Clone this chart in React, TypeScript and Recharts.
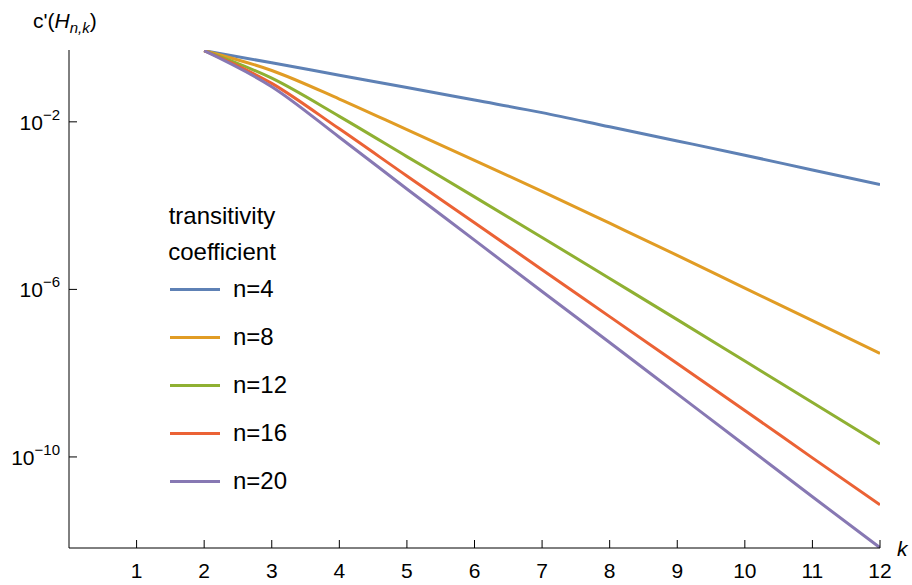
import React from 'react';
import { LineChart, Line, XAxis, YAxis, Legend } from 'recharts';

// k values and c'(H_{n,k})
const ks = [2, 3, 4, 5, 6, 7, 8, 9, 10, 11, 12];
const n4 = [0.5, 0.257, 0.13, 0.066, 0.0331, 0.0166, 7.6e-3, 3.5e-3, 1.6e-3, 7.1e-4, 3.2e-4];
const n8 = [0.5, 0.168, 3.5e-2, 6.5e-3, 1.2e-3, 2.2e-4, 3.8e-5, 6.5e-6, 1.07e-6, 1.8e-7, 2.95e-8];
const n12 = [0.5, 0.11, 1.35e-2, 1.48e-3, 1.62e-4, 1.74e-5, 1.82e-6, 1.9e-7, 1.95e-8, 2.0e-9, 2.04e-10];
const n16 = [0.5, 8.3e-2, 6.8e-3, 5.1e-4, 3.9e-5, 2.95e-6, 2.24e-7, 1.7e-8, 1.29e-9, 9.5e-11, 7.2e-12];
const n20 = [0.5, 6.9e-2, 4.3e-3, 2.5e-4, 1.5e-5, 8.9e-7, 5.4e-8, 3.2e-9, 1.9e-10, 1.12e-11, 6.8e-13];

const xTicks = [1, 2, 3, 4, 5, 6, 7, 8, 9, 10, 11, 12];
const yTicks = [1e-2, 1e-6, 1e-10];

const series = [
  { key: 'n4', name: 'n=4', color: '#5E81B5' },
  { key: 'n8', name: 'n=8', color: '#E19C24' },
  { key: 'n12', name: 'n=12', color: '#8FB032' },
  { key: 'n16', name: 'n=16', color: '#EB6235' },
  { key: 'n20', name: 'n=20', color: '#8778B3' },
];

const data = ks.map((k, i) => ({
  k,
  n4: n4[i],
  n8: n8[i],
  n12: n12[i],
  n16: n16[i],
  n20: n20[i],
}));

const FONT = '"Liberation Sans", Arial, sans-serif';

const XTick = ({ x, y, payload }: any) => (
  <g>
    <line x1={x} x2={x} y1={y} y2={y - 8} stroke="#000" strokeWidth={1} />
    <text x={x} y={y + 30} textAnchor="middle" fontSize={21} fontFamily={FONT} fill="#000">
      {payload.value}
    </text>
  </g>
);

const YTick = ({ x, y, payload }: any) => {
  const exp = Math.round(Math.log10(payload.value));
  return (
    <g>
      <line x1={x} x2={x + 8} y1={y} y2={y} stroke="#000" strokeWidth={1} />
      <text x={x - 9} y={y + 8} textAnchor="end" fontSize={21} fontFamily={FONT} fill="#000">
        10
        <tspan dy={-10} fontSize={15}>{'\u2212' + -exp}</tspan>
      </text>
    </g>
  );
};

// legend keeps the series order (n=4 ... n=20) instead of sorting by name
const LegendBox = () => (
  <div style={{ fontFamily: FONT, fontSize: 24, color: '#000' }}>
    <div style={{ textAlign: 'center', width: 124, lineHeight: '36px' }}>
      transitivity
      <br />
      coefficient
    </div>
    {series.map((s, i) => (
      <div
        key={s.key}
        style={{ display: 'flex', alignItems: 'center', height: 48, marginTop: i === 0 ? -5 : 0 }}
      >
        <div style={{ width: 50, height: 3, background: s.color, marginLeft: 10 }} />
        <span style={{ marginLeft: 13 }}>{s.name}</span>
      </div>
    ))}
  </div>
);

export default function App() {
  return (
    <div style={{ position: 'absolute', left: 0, top: 0, background: '#fff' }}>
      <LineChart width={912} height={585} data={data} margin={{ top: 50, right: 32, left: 0, bottom: 0 }}>
        <XAxis
          dataKey="k"
          type="number"
          domain={[0, 12]}
          ticks={xTicks}
          allowDataOverflow
          height={37}
          tickSize={0}
          tickMargin={0}
          tickLine={false}
          stroke="#000"
          tick={<XTick />}
          interval={0}
          label={{
            content: () => (
              <text x={897} y={556} fontSize={21} fontStyle="italic" fontFamily={FONT} fill="#000">
                k
              </text>
            ),
          }}
        />
        <YAxis
          scale="log"
          type="number"
          domain={[6.7e-13, 0.519]}
          ticks={yTicks}
          allowDataOverflow
          width={69}
          tickSize={0}
          tickMargin={0}
          tickLine={false}
          stroke="#000"
          tick={<YTick />}
          interval={0}
          label={{
            content: () => (
              <text x={33} y={28} fontSize={21} fontFamily={FONT} fill="#000">
                c'(
                <tspan fontStyle="italic">H</tspan>
                <tspan fontStyle="italic" fontSize={15} dy={5}>n,k</tspan>
                <tspan dy={-5}>)</tspan>
              </text>
            ),
          }}
        />
        <Legend
          layout="horizontal"
          verticalAlign="middle"
          align="center"
          content={<LegendBox />}
          wrapperStyle={{ left: 160, top: 198, width: 'auto' }}
        />
        {series.map((s) => (
          <Line
            key={s.key}
            dataKey={s.key}
            name={s.name}
            stroke={s.color}
            strokeWidth={3}
            dot={false}
            type="monotone"
            isAnimationActive={false}
          />
        ))}
      </LineChart>
    </div>
  );
}
